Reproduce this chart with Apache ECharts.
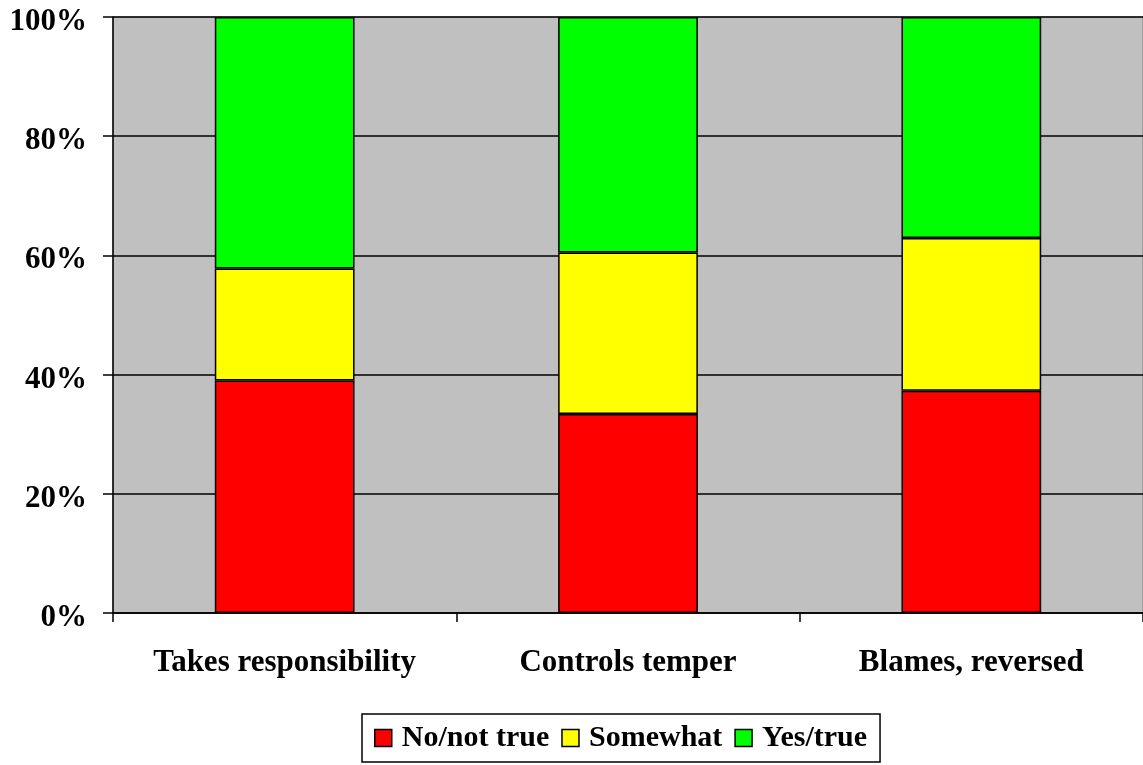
<!DOCTYPE html>
<html><head><meta charset="utf-8">
<script src="https://cdn.jsdelivr.net/npm/echarts@6/dist/echarts.min.js"></script>
<style>html,body{margin:0;padding:0;background:#fff}#c{width:1143px;height:765px}</style>
</head><body><div id="c"></div>
<script>
const categories = ['Takes responsibility', 'Controls temper', 'Blames, reversed'];
const noNotTrue = [39.0, 33.4, 37.3];
const somewhat = [18.8, 27.1, 25.6];
const yesTrue = [42.2, 39.5, 37.1];
const seriesNames = ['No/not true', 'Somewhat', 'Yes/true'];
const colors = ['#FF0000', '#FFFF00', '#00FF00'];

const font = '"Liberation Serif", "Times New Roman", serif';
const chart = echarts.init(document.getElementById('c'));
const mk = (name, data, color) => ({
  name, type: 'bar', stack: 'total', data, barWidth: '40.7%',
  itemStyle: { color, borderColor: '#000', borderWidth: 1.5 },
  emphasis: { disabled: true }
});
chart.setOption({
  animation: false,
  textStyle: { fontFamily: font },
  grid: { left: 113, right: 0, top: 17, bottom: 152, show: true, backgroundColor: '#C0C0C0', borderColor: '#808080', borderWidth: 1 },
  legend: {
    bottom: 3, left: 362, itemWidth: 17, itemHeight: 17, itemGap: 12,
    padding: [9, 13, 9, 12],
    borderColor: '#000', borderWidth: 1.5,
    icon: 'rect',
    textStyle: { fontFamily: font, fontWeight: 'bold', fontSize: 30, color: '#000', padding: [0, 0, 0, 5] },
    data: seriesNames.map((n, i) => ({ name: n, itemStyle: { color: colors[i], borderColor: '#000', borderWidth: 1.5 } }))
  },
  xAxis: {
    type: 'category', data: categories,
    axisLine: { lineStyle: { color: '#000', width: 1.5 } },
    axisTick: { show: true, length: 9, lineStyle: { color: '#000', width: 1.5 } },
    axisLabel: { fontFamily: font, fontWeight: 'bold', fontSize: 31, color: '#000', margin: 34 }
  },
  yAxis: {
    type: 'value', min: 0, max: 100, interval: 20,
    axisLine: { show: true, lineStyle: { color: '#000', width: 1.5 } },
    axisTick: { show: true, length: 10, lineStyle: { color: '#000', width: 1.5 } },
    splitLine: { lineStyle: { color: '#000', width: 1.5 } },
    axisLabel: {
      formatter: v => '{a|' + v + '%}', margin: 26,
      rich: { a: { fontFamily: font, fontWeight: 'bold', fontSize: 31, color: '#000', padding: [10, 0, 0, 0] } }
    }
  },
  series: [mk(seriesNames[0], noNotTrue, colors[0]), mk(seriesNames[1], somewhat, colors[1]), mk(seriesNames[2], yesTrue, colors[2])]
});
</script></body></html>
